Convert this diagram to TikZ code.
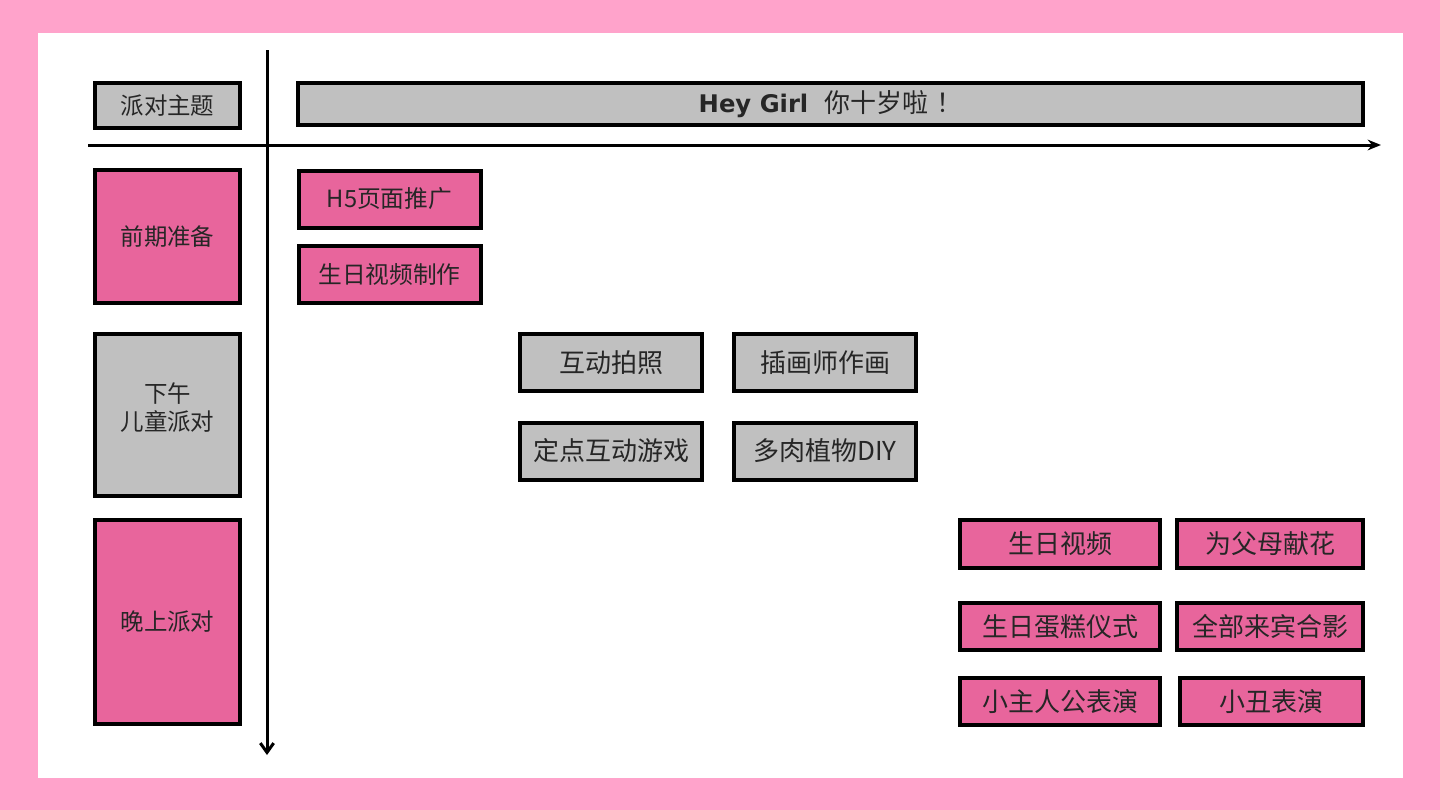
\documentclass[tikz,border=0pt]{standalone}
\usepackage{fontspec}
\setmainfont{Noto Sans CJK SC}
\newfontfamily\heyfont{DejaVu Sans}
\usetikzlibrary{
  arrows.meta,  % Tips "Stealth", "Straight Barb"
  positioning   % Function "of"
}
\definecolor{partypink}{HTML}{E8659C}
\definecolor{partygray}{HTML}{C0C0C0}
\definecolor{framepink}{HTML}{FFA3CB}
\definecolor{inkgray}{HTML}{262626}
\def\px{0.75pt}
\tikzset{
  x=\px,
  y=-\px,
  box/.style={
    draw,
    line width=3pt,
    inner sep=0pt,
    align=center,
    text=inkgray,
    font=\fontsize{19.5}{23}\selectfont
  },
  pinkbox/.style={box,fill=partypink},
  graybox/.style={box,fill=partygray},
  rowhead/.style={
    minimum width=145*\px,
    font=\fontsize{17.6}{21}\selectfont
  },
  item/.style={
    minimum width=182*\px,
    minimum height=57*\px
  },
  wide item/.style={
    minimum width=200*\px,
    minimum height=47*\px
  },
  axis/.style={line width=2.25pt}
}

\begin{document}
\begin{tikzpicture}
\fill[framepink] (0,0) rectangle (1440,810);
\fill[white] (38,33) rectangle (1403,778);
\useasboundingbox (0,0) rectangle (1440,810);
% row headers
\node[graybox,rowhead,minimum height=45*\px]  (theme)     at (167.5,105.5) {派对主题};
\node[pinkbox,rowhead,minimum height=133*\px] (early)     at (167.5,236.5) {前期准备};
\node[graybox,rowhead,minimum height=162*\px] (afternoon) at (167.5,415)   {下午\\儿童派对\\[-9pt]\mbox{}};
\node[pinkbox,rowhead,minimum height=204*\px] (evening)   at (167.5,622)   {晚上派对};
% title bar
\node[graybox,minimum width=1065*\px,minimum height=42*\px] (title) at (830.5,104)
  {{\heyfont\bfseries\fontsize{18.2}{21}\selectfont Hey Girl}\hspace{12pt}你十岁啦\hspace{6pt}！};
% early preparation
\node[pinkbox,item,font=\fontsize{17.8}{21}\selectfont] (h5)    at (389.5,199)   {H5页面推广};
\node[pinkbox,item,font=\fontsize{17.8}{21}\selectfont] (video) at (389.5,274.5) {生日视频制作};
% afternoon
\node[graybox,item] (photo)   at (611,362.5) {互动拍照};
\node[graybox,item] (painter) [right=28*\px of photo] {插画师作画};
\node[graybox,item] (game)    at (611,451)   {定点互动游戏};
\node[graybox,item] (diy)     [right=28*\px of game] {多肉植物DIY};
% evening
\node[pinkbox,wide item,minimum height=48*\px] (bvideo) at (1060,544) {生日视频};
\node[pinkbox,wide item,minimum width=186*\px,minimum height=48*\px] (flower) at (1270,544) {为父母献花};
\node[pinkbox,wide item] (cake)     at (1060,626.5) {生日蛋糕仪式};
\node[pinkbox,wide item,minimum width=186*\px] (group) at (1270,626.5) {全部来宾合影};
\node[pinkbox,wide item] (kidshow)  at (1060,701.5) {小主人公表演};
\node[pinkbox,wide item,minimum width=183*\px] (clown) at (1271.5,701.5) {小丑表演};
% axes
\coordinate (xstart) at (88,145);
\coordinate (xend)   at (1381,145);
\coordinate (ystart) at (267,50);
\coordinate (yend)   at (267,755);
\draw[axis,-{Stealth[length=10pt,width=8pt]}] (xstart) -- (xend);
\draw[axis,-{Straight Barb[length=7pt,width=10pt]}] (ystart) -- (yend);
\end{tikzpicture}
\end{document}
